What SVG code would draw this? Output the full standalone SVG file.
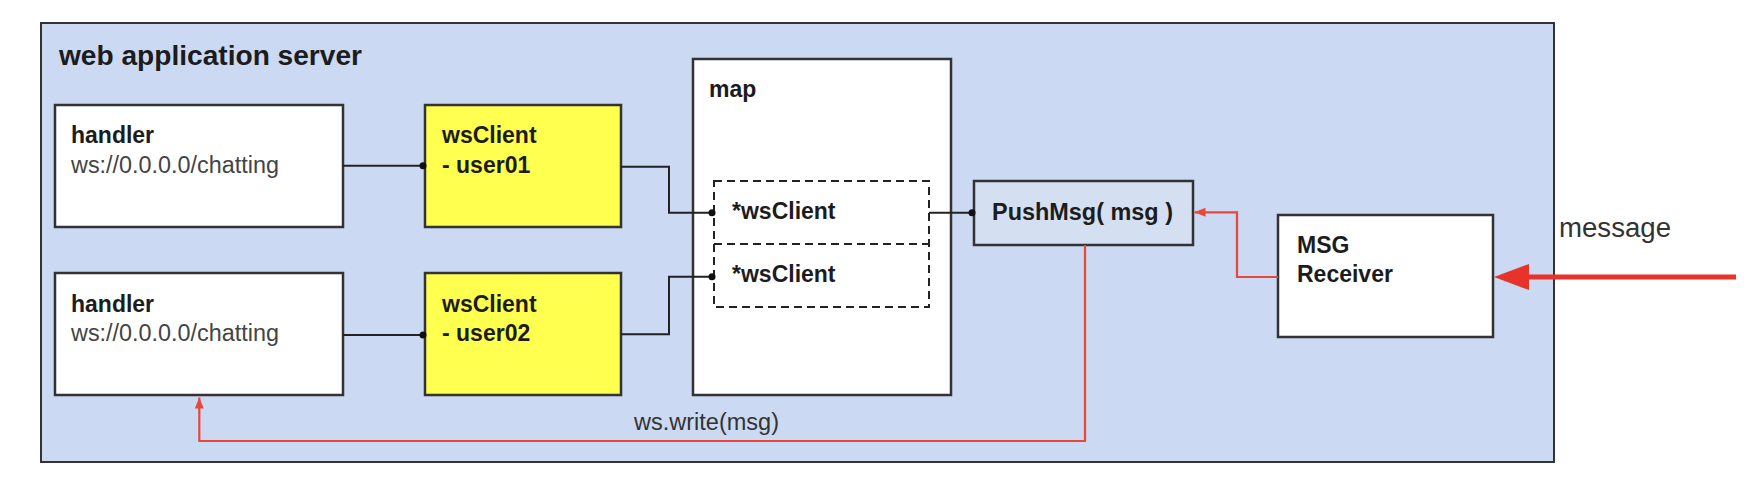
<svg xmlns="http://www.w3.org/2000/svg" width="1754" height="498" viewBox="0 0 1754 498">
<style>
.box{stroke:#333;stroke-width:2.5}
.w{fill:#fff}
.y{fill:#ffff50}
.b{font-family:"Liberation Sans",Arial,sans-serif;font-weight:bold;font-size:23px;fill:#1c1c1c}
.r{font-family:"Liberation Sans",Arial,sans-serif;font-size:23px;fill:#444}
.con{fill:none;stroke:#222;stroke-width:2}
.red{fill:none;stroke:#e9473b;stroke-width:2.2}
.dash{fill:none;stroke:#222;stroke-width:2;stroke-dasharray:8 5}
</style>
<defs>
<marker id="dot" markerUnits="userSpaceOnUse" markerWidth="8" markerHeight="8" viewBox="0 0 8 8" refX="6" refY="4" orient="auto">
<circle cx="4" cy="4" r="3.5" fill="#111"/>
</marker>
<marker id="ra" markerUnits="userSpaceOnUse" markerWidth="11" markerHeight="9" viewBox="0 0 11 9" refX="11" refY="4.5" orient="auto">
<path d="M0,0 L11,4.5 L0,9 z" fill="#e9473b"/>
</marker>
</defs>
<rect width="1754" height="498" fill="#fff"/>
<g id="server">
<rect x="41" y="23" width="1513" height="439" fill="#cbd9f3" stroke="#333" stroke-width="2"/>
<text x="59" y="65" class="b" style="font-size:27px" textLength="303" lengthAdjust="spacingAndGlyphs">web application server</text>
</g>
<g id="handler1">
<rect x="55" y="105" width="288" height="122" class="box w"/>
<text x="71" y="143" class="b">handler</text>
<text x="71" y="173" class="r" textLength="208" lengthAdjust="spacingAndGlyphs">ws://0.0.0.0/chatting</text>
</g>
<g id="handler2">
<rect x="55" y="273" width="288" height="122" class="box w"/>
<text x="71" y="311.5" class="b">handler</text>
<text x="71" y="341" class="r" textLength="208" lengthAdjust="spacingAndGlyphs">ws://0.0.0.0/chatting</text>
</g>
<g id="wsclient1">
<rect x="425" y="105" width="196" height="122" class="box y"/>
<text x="442" y="143" class="b">wsClient</text>
<text x="442" y="173" class="b">- user01</text>
</g>
<g id="wsclient2">
<rect x="425" y="273" width="196" height="122" class="box y"/>
<text x="442" y="311.5" class="b">wsClient</text>
<text x="442" y="341" class="b">- user02</text>
</g>
<g id="map">
<rect x="693" y="59" width="258" height="336" class="box w"/>
<text x="709" y="97" class="b">map</text>
<rect x="714" y="181" width="215" height="126" class="dash"/>
<path d="M714,244 H929" class="dash"/>
<text x="732" y="219" class="b">*wsClient</text>
<text x="732" y="282" class="b">*wsClient</text>
</g>
<g id="pushmsg">
<rect x="974" y="181" width="219" height="64" class="box" fill="#d4e0f1"/>
<text x="992" y="220" class="b" textLength="181" lengthAdjust="spacingAndGlyphs">PushMsg( msg )</text>
</g>
<g id="receiver">
<rect x="1278" y="215" width="215" height="122" class="box w"/>
<text x="1297" y="253" class="b">MSG</text>
<text x="1297" y="282" class="b">Receiver</text>
</g>
<g id="connectors">
<path d="M343,165.7 H425" class="con" marker-end="url(#dot)"/>
<path d="M343,335 H425" class="con" marker-end="url(#dot)"/>
<path d="M621,166.7 H669 V212.7 H714" class="con" marker-end="url(#dot)"/>
<path d="M621,334.3 H669 V276.7 H714" class="con" marker-end="url(#dot)"/>
<path d="M929,212.7 H974" class="con" marker-end="url(#dot)"/>
<path d="M1085,245 V441 H199.3 V397.5" class="red" marker-end="url(#ra)"/>
<path d="M1278,277 H1237 V212.3 H1194.5" class="red" marker-end="url(#ra)"/>
<path d="M1736,277 H1526" fill="none" stroke="#e8332a" stroke-width="5"/>
<polygon points="1494,277 1529,264 1529,290" fill="#e8332a"/>
<text x="634" y="430" class="r" style="fill:#333" textLength="145" lengthAdjust="spacingAndGlyphs">ws.write(msg)</text>
<text x="1559" y="237" class="r" style="font-size:27px;fill:#333" textLength="112" lengthAdjust="spacingAndGlyphs">message</text>
</g>
</svg>
